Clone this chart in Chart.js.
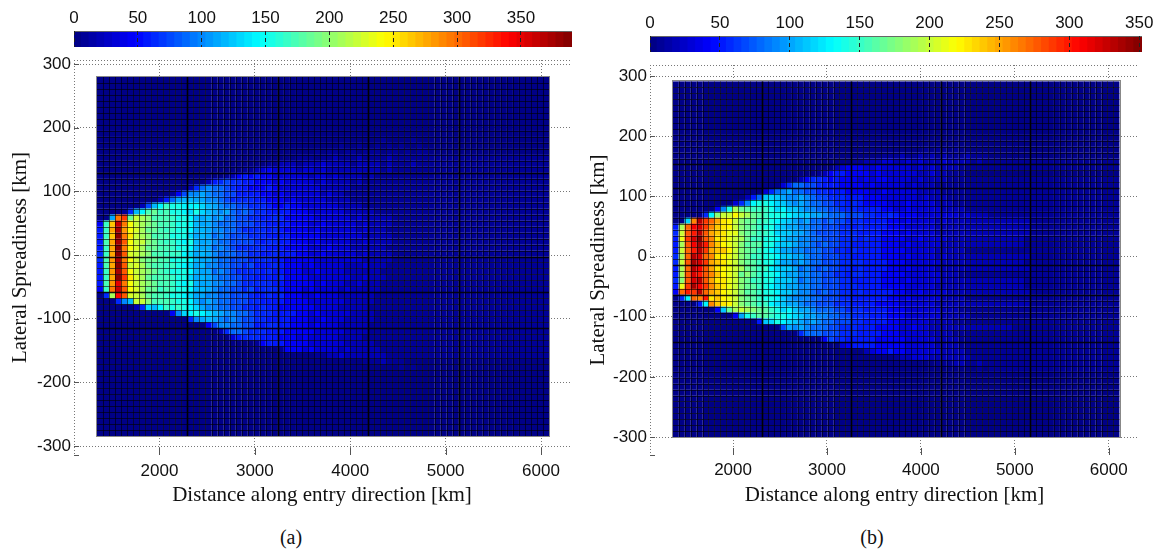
<!DOCTYPE html>
<html><head><meta charset="utf-8">
<script src="https://cdn.jsdelivr.net/npm/chart.js@4"></script>
<style>
html,body{margin:0;padding:0;background:#fff;width:1162px;height:556px;overflow:hidden}
canvas{position:absolute;top:0}
.cap{position:absolute;top:526px;font:20px "Liberation Serif",serif;color:#111;transform:translateX(-50%)}
</style></head><body>
<canvas id="barA" width="581" height="50" style="left:0"></canvas>
<canvas id="heatA" width="581" height="515" style="left:0"></canvas>
<canvas id="barB" width="581" height="55" style="left:581px"></canvas>
<canvas id="heatB" width="581" height="515" style="left:581px"></canvas>
<div class="cap" style="left:291px">(a)</div>
<div class="cap" style="left:872px">(b)</div>
<script>
// Cell values, one string per row (top to bottom), one base-36 level per column.
const rowsA=["0","0","0","0","0","0","0","0","0","0",
"00000000000000000000000000000000000000000000000100001000",
"00000000000000000000000000000000000000001001001010100100",
"00000000000000000000000000000000000010110110111011010110",
"000000000000000000000000000000000111011211121111211111111",
"000000000000000000000000000011222122232222122221211121",
"000000000000000000000000112343333233232222222221211",
"000000000000000000000124545443333332332322221211",
"000000000000000000256766554443433333232222121",
"0000000000000002689887655444543333333222221",
"00000000000014799a98877555544343333332322111",
"0000000000258abbaa998766665544434333332222111",
"000000027bdfeedddcba98877666544544333333222211",
"000016bdghfgeedcecba9a87876655554443333332222211",
"00arthkjigggfeedbab9a8877665566444443333332322222111",
"4foxrmkjihggfeedbaa988877766555544433433333232222111",
"5fpyqmljhhgffeedbba99887666656544443433333323222111",
"5fozrnkjigggeeecaba8987776665555444443333333222221111",
"5gpysmkkihgffedebaa9887777656655444343333322322221111",
"5fpzrmljhhggfeedbaa8987666665554444333433322222211111",
"6fpzslkjiggfffdcaba9888776655655544334333332322221111",
"6gqyrmkihhggeeedbaa98877766665544444333333332222211",
"5gpzskljhggffedcab99887767555654443433333222322211",
"5fqysmkjihgfeeedbaa8987666656554443343333222222111",
"5fpztnljhgggfeecaba9887766555564444333333322322211",
"5gqwrmkjihggfedebaa9988766666554444434333223222111",
"4frxsmljhhfgfeedbba9887767566654443433332322222111",
"06jvslkjhggfeedcaa9988777655656444334333222222111",
"00069bkkigggfeedb9a988777665555444433333322222111",
"00000026cbdfefedca998877665655444444333322222111",
"00000000000049cdedcba99887666555544343333322221111",
"00000000000000069aba98987766555544433433322222111",
"000000000000000000479988775566554443433322222111",
"000000000000000000002688766655544444333332222111",
"000000000000000000000035666555444343333322221111",
"0000000000000000000000000014555444433333322222111",
"00000000000000000000000000000014443433332322222111",
"0000000000000000000000000000000000001122322222221111",
"0000000000000000000000000000000000000000000011121110",
"000000000000000000000000000000000000000000000000001010",
"0","0","0","0","0","0","0","0","0","0","0"];
const rowsB=["0","0","0","0","0","0","0","0","0","0","0",
"0000000000000000000000000000000000000000001011010",
"000000000000000000000000000000000001112112121211121110",
"000000000000000000000000000000112223322323222322221211",
"0000000000000000000000000002344433433333232322221111",
"00000000000000000000000012455444434333333223221110",
"000000000000000000000246654544434344333323222211",
"000000000000000000368877655544443433333232221",
"0000000000000003689a887766555444433433333222211",
"000000000000258bcba99a9877666555444333333232221",
"0000000000369deedcba9a98877665654444333433332221",
"000000049ejhgfffecdbba9988776665555443343333322221",
"000006dikkmkjhgfeeedcbbaa98887776655654443333333232221",
"00cqxtrpnmkihhffedcba9a887877666555544343333232222",
"5jrvwtqonmkihgfeecbaa99887776656555544433333222222",
"6ksuxsponllihgffecbbaa9877776665555444343333222222",
"5ltwzsqnnlkjhffeedbaa9988777666565544443343333222",
"5jsvyuqomlkigggeecbba9987877665555544434333332222",
"5kruxtpoomkihgfedcaa998887766565555444433333222221",
"6jrxwrqnmlkihffeedbbaa9887776655555444343333232222",
"6ksywtponlkihgfeecaa9a988777666655554443333332222",
"5jrxvspnmlkjhgffdcbba89878776656555544343333222222",
"5jswusqomlkhigfeedbaa9988776656655544443333332221",
"6iswxspnnlkihffeecbba8988777665555544434333332222",
"5ltyvtqonlkihgfedcbaa9988777666555544443333322222",
"4rutxrpomlkiggfeedbba99878776656555554433433332222",
"06drqunomlkihgfeedba999887776655555544343333322221",
"00005dqonmkihgffdcbaa98877766655554444333333222222",
"00000004bhjkjihgfecdbaa98887766655554443333332221",
"00000000004aefggfeedcbaa998877666555444333333222221",
"000000000000005bcedcba9a988777665555443333322221",
"0000000000000000007a9a9888776665554444334332222",
"0000000000000000000006888777666555544433333222211",
"000000000000000000000000047665555544444333332222111",
"00000000000000000000000000003455554444433333222211",
"00000000000000000000000000000000234454433333322221",
"00000000000000000000000000000000000001223332222222111",
"00000000000000000000000000000000000000000000111221121",
"000000000000000000000000000000000000000000000000000101",
"0","0","0","0","0","0","0","0","0","0","0"];
const unitA=11, unitB=10;
const colCount=75, rowCount=60;
const xTicks=[2000,3000,4000,5000,6000];
const yTicks=[-300,-200,-100,0,100,200,300];
const barTicks=[0,50,100,150,200,250,300,350];
const thickRowsA=[16,30,36,42], thickRowsB=[14,18,31,36,44];

const SANS='"Liberation Sans",Arial,sans-serif', SERIF='"Liberation Serif",serif';
const cl=v=>Math.max(0,Math.min(1,v));
const jet=t=>{const f=o=>Math.round(255*cl(1.5-Math.abs(4*t-o)));return `rgb(${f(3)},${f(2)},${f(1)})`;};

function colorbar(id,vmax,pad){
  const n=64,labels=[...Array(n).keys()];
  new Chart(document.getElementById(id),{type:'bar',
    data:{datasets:[{data:labels.map(i=>({x:(i+.5)*vmax/n,y:1})),
      backgroundColor:labels.map(i=>jet((i+.5)/n)),barPercentage:1,categoryPercentage:1,
      borderWidth:0,barThickness:Math.ceil(pad.w/n)+1}]},
    options:{responsive:false,animation:false,events:[],
      layout:{padding:{left:pad.left,right:pad.right,bottom:pad.bottom}},
      plugins:{legend:{display:false},tooltip:{enabled:false}},
      scales:{
        x:{type:'linear',position:'top',min:0,max:vmax,offset:false,
          afterBuildTicks:s=>{s.ticks=barTicks.filter(v=>v<=vmax).map(value=>({value}));},
          afterFit:s=>{s.height=pad.top;},
          ticks:{autoSkip:false,maxRotation:0,color:'#111',padding:2,font:{family:SANS,size:17}},
          grid:{color:'#222',drawTicks:false,z:1,offset:false},border:{display:false,dash:[4,3]}},
        y:{display:false,min:0,max:1}}},
    plugins:[{id:'frame',afterDatasetsDraw(c){const a=c.chartArea,g=c.ctx;g.save();g.strokeStyle='#666';g.lineWidth=1;
      g.beginPath();g.moveTo(a.left,a.top+.5);g.lineTo(a.right,a.top+.5);g.stroke();g.restore();}}]});
}

function heat(id,o){
  const dx=(o.hx1-o.hx0)/colCount, dy=(o.hy1-o.hy0)/rowCount, pts=[], cols=[];
  o.rows.forEach((s,r)=>{
    const last=s[s.length-1], pad=last==='0'?'0':'1';
    for(let c=0;c<colCount;c++){
      const ch=c<s.length?s[c]:(c<s.length+10?last:pad);
      const v=parseInt(ch,36)*o.unit;
      pts.push({x:o.hx0+(c+.5)*dx,y:o.hy1-(r+.5)*dy,v});
      cols.push(jet(Math.min(.999,(Math.floor(v/o.vmax*64)+.5)/64)));
    }
  });
  new Chart(document.getElementById(id),{type:'scatter',
    data:{datasets:[{data:pts,pointStyle:'rect',pointRadius:o.cell/Math.SQRT2+.12,pointBorderWidth:0,
      pointBackgroundColor:cols,showLine:false}]},
    options:{responsive:false,animation:false,events:[],
      layout:{padding:{top:o.top,right:o.right,left:0,bottom:0}},
      plugins:{legend:{display:false},tooltip:{enabled:false}},
      scales:{
        x:{type:'linear',min:o.xmin,max:o.xmax,
          afterBuildTicks:s=>{s.ticks=[o.xmin,...xTicks].map(value=>({value}));},
          afterFit:s=>{s.height=60;},
          title:{display:true,text:'Distance along entry direction [km]',color:'#111',padding:o.xtp,font:{family:SERIF,size:21}},
          ticks:{autoSkip:false,maxRotation:0,color:'#111',padding:o.xpad,font:{family:SANS,size:17},
            callback:v=>xTicks.includes(v)?String(v):''},
          grid:{color:'#777',drawTicks:false},border:{display:false,dash:[1,2]}},
        y:{type:'linear',min:o.ymin,max:o.ymax,
          afterBuildTicks:s=>{s.ticks=[o.ymin,...yTicks,o.ymax].map(value=>({value}));},
          afterFit:s=>{s.width=o.left;},
          title:{display:true,text:'Lateral Spreadiness [km]',color:'#111',padding:o.ytp,font:{family:SERIF,size:21}},
          ticks:{autoSkip:false,color:'#111',padding:3,font:{family:SANS,size:17},
            callback:v=>yTicks.includes(v)?String(v):''},
          grid:{color:c=>c.tick&&c.tick.value===o.ymin?'rgba(0,0,0,0)':'#777',drawTicks:false},
          border:{display:false,dash:[1,2]}}}},
    plugins:[{id:'cellEdges',afterDatasetsDraw(c){
      const g=c.ctx,X=c.scales.x,Y=c.scales.y,a=c.chartArea;
      const L=X.getPixelForValue(o.hx0),R=X.getPixelForValue(o.hx1),T=Y.getPixelForValue(o.hy1),B=Y.getPixelForValue(o.hy0);
      g.save();
      for(let i=1;i<colCount;i++){
        const p=Math.round(X.getPixelForValue(o.hx0+i*dx))+.5, thick=i%15===0;
        g.strokeStyle=thick?'#000':'rgba(0,0,0,.6)';g.lineWidth=thick?1.6:1;
        g.beginPath();g.moveTo(p,T);g.lineTo(p,B);g.stroke();
      }
      for(let i=1;i<rowCount;i++){
        const p=Math.round(Y.getPixelForValue(o.hy1-i*dy))+.5, thick=o.thick.includes(i);
        g.strokeStyle=thick?'rgba(0,0,0,.9)':'rgba(0,0,0,.6)';g.lineWidth=thick?1.4:1;
        g.beginPath();g.moveTo(L,p);g.lineTo(R,p);g.stroke();
      }
      g.strokeStyle='#888';g.lineWidth=1;g.strokeRect(Math.round(L)-.5,Math.round(T)-.5,Math.round(R-L)+1,Math.round(B-T)+1);
      g.strokeStyle='#555';
      g.beginPath();
      [o.ymin,...yTicks].forEach(v=>{const p=Math.round(Y.getPixelForValue(v))+.5;g.moveTo(a.left,p);g.lineTo(a.left+5,p);});
      xTicks.forEach(v=>{const p=Math.round(X.getPixelForValue(v))+.5;g.moveTo(p,a.bottom);g.lineTo(p,a.bottom-7);});
      g.stroke();g.restore();
    }}]});
}

colorbar('barA',390,{left:74,right:9,top:31,bottom:3,w:498});
colorbar('barB',352,{left:69,right:20,top:36,bottom:3,w:492});
heat('heatA',{rows:rowsA,unit:unitA,vmax:390,cell:6.03,thick:thickRowsA,
  hx0:1344.7,hx1:6084,hy0:-284.3,hy1:279.6,xmin:1103.6,xmax:6304,ymin:-314.1,ymax:306.3,
  top:60,right:11,left:74,xpad:6,xtp:7,ytp:8});
heat('heatB',{rows:rowsB,unit:unitB,vmax:352,cell:5.95,thick:thickRowsB,
  hx0:1358,hx1:6113,hy0:-300,hy1:290.9,xmin:1116,xmax:6322,ymin:-329.9,ymax:318.3,
  top:65,right:23,left:69,xpad:5,xtp:7,ytp:5});
</script>
</body></html>
